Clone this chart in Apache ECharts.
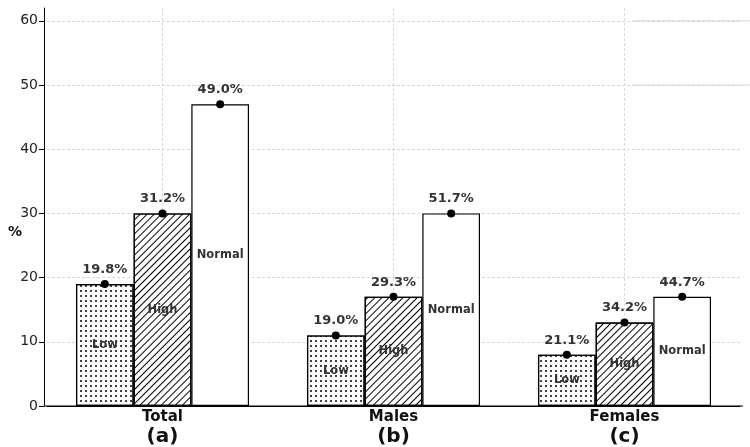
<!DOCTYPE html>
<html>
<head>
<meta charset="utf-8">
<script src="https://cdn.jsdelivr.net/npm/echarts@6/dist/echarts.min.js"></script>
<style>
  html, body { margin: 0; padding: 0; background: #fff; }
  #main { width: 750px; height: 447px; }
</style>
</head>
<body>
<div id="main"></div>
<script>
// data
const groups = ['Total', 'Males', 'Females'];
const panels = ['(a)', '(b)', '(c)'];
const levels = ['Low', 'High', 'Normal'];
const lowVals = [19, 11, 8];
const highVals = [30, 17, 13];
const normalVals = [47, 30, 17];
const lowPct = ['19.8%', '19.0%', '21.1%'];
const highPct = ['31.2%', '29.3%', '34.2%'];
const normalPct = ['49.0%', '51.7%', '44.7%'];
const yTicks = [0, 10, 20, 30, 40, 50, 60];

const FONT = 'DejaVu Sans';
const GAP = '25.1%';

const dots = {
    symbol: 'circle', symbolSize: 1, color: '#000',
    dashArrayX: [1.8, 2.7], dashArrayY: [1.8, 3]
};
const hatch = {
    symbol: 'rect', symbolSize: 1, color: '#000',
    dashArrayX: [1, 0], dashArrayY: [1, 3.4], rotation: -Math.PI / 4
};

const vals = [lowVals, highVals, normalVals];
const pcts = [lowPct, highPct, normalPct];
const decals = [dots, hatch, null];

let series = [];
levels.forEach((lv, i) => {
    let st = { color: '#fff', borderColor: '#000', borderWidth: 1.2 };
    if (decals[i]) st.decal = decals[i];
    series.push({
        name: lv,
        type: 'bar',
        data: vals[i],
        barGap: 0,
        barCategoryGap: GAP,
        itemStyle: st,
        label: {
            show: true, position: 'inside', formatter: lv,
            fontFamily: FONT, fontSize: 11.5, fontWeight: 'bold', color: '#333'
        }
    });
});
// dot on top of each bar + percentage text
levels.forEach((lv, i) => {
    series.push({
        name: lv + ' pct',
        type: 'pictorialBar',
        data: vals[i],
        barGap: 0,
        barCategoryGap: GAP,
        symbol: 'circle',
        symbolSize: [8, 8],
        symbolPosition: 'end',
        symbolOffset: [0, '-50%'],
        z: 5,
        itemStyle: { color: '#000' },
        label: {
            show: true, position: 'top', distance: 4,
            formatter: p => pcts[i][p.dataIndex],
            fontFamily: FONT, fontSize: 13, fontWeight: 'bold', color: '#333'
        }
    });
});

const chart = echarts.init(document.getElementById('main'));
const option = {
    animation: false,
    backgroundColor: '#fff',
    grid: { left: 47, right: 10, top: 8, bottom: 41, outerBoundsMode: 'none', containLabel: false },
    xAxis: {
        type: 'category',
        data: groups,
        axisLine: { lineStyle: { color: '#000', width: 1 } },
        axisTick: { show: false },
        axisLabel: {
            margin: 2,
            formatter: (v, idx) => '{n|' + v + '}\n{s|' + panels[idx] + '}',
            rich: {
                n: { fontFamily: FONT, fontSize: 15, fontWeight: 'bold', color: '#111', lineHeight: 18 },
                s: { fontFamily: FONT, fontSize: 20, fontWeight: 'bold', color: '#111', lineHeight: 22 }
            }
        },
        splitLine: {
            show: true, alignWithLabel: true,
            lineStyle: { color: '#cfcfcf', type: [3, 2], width: 0.8 }
        }
    },
    yAxis: {
        type: 'value',
        min: 0, max: 62, interval: 10,
        offset: 3,
        axisLine: { show: true, lineStyle: { color: '#000', width: 1 } },
        axisTick: { show: true, length: 5, customValues: yTicks, lineStyle: { color: '#000' } },
        axisLabel: {
            customValues: yTicks,
            fontFamily: FONT, fontSize: 14, color: '#222', margin: 6
        },
        splitLine: {
            show: true,
            lineStyle: { color: '#cfcfcf', type: [3, 2], width: 0.8 }
        }
    },
    series: series
};
chart.setOption(option);

// y-axis title and the partially visible legend frame in the top-right corner
const yTop = chart.convertToPixel({ yAxisIndex: 0 }, 60);
const yBot = chart.convertToPixel({ yAxisIndex: 0 }, 50);
const yName = chart.convertToPixel({ yAxisIndex: 0 }, 27);
const yZero = chart.convertToPixel({ yAxisIndex: 0 }, 0);
chart.setOption({
    graphic: [
        { type: 'text', x: 15, y: yName, style: { text: '%', font: 'bold 14px "DejaVu Sans"', fill: '#111', align: 'center', verticalAlign: 'middle' } },
        { type: 'line', shape: { x1: 44, y1: yZero, x2: 743, y2: yZero }, style: { stroke: '#000', lineWidth: 1 }, z: 10 },
        { type: 'line', shape: { x1: 633, y1: yTop, x2: 750, y2: yTop }, style: { stroke: '#d6d6d6', lineWidth: 1 }, z: 10 },
        { type: 'line', shape: { x1: 633, y1: yBot, x2: 750, y2: yBot }, style: { stroke: '#d6d6d6', lineWidth: 1 }, z: 10 }
    ]
});
</script>
</body>
</html>
